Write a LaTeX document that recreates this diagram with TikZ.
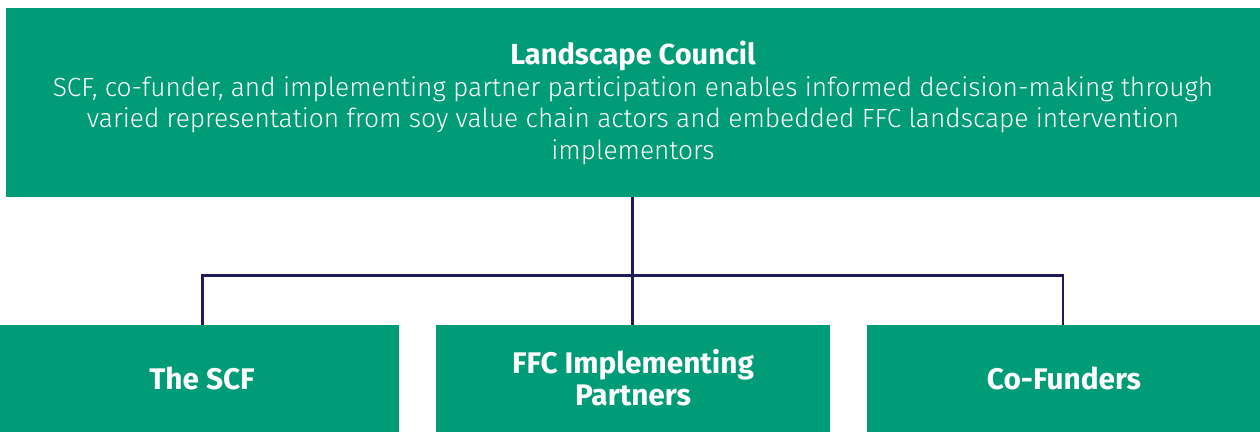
\documentclass[tikz,border=0pt]{standalone}
\usepackage{fontspec}
\setmainfont{Fira Sans}[UprightFont=* Light, BoldFont=* Bold]
\definecolor{boxgreen}{RGB}{0,155,119}
\definecolor{linenavy}{RGB}{31,27,94}
\tikzset{
  greenbox/.style={fill=boxgreen, draw=none, text=white, align=center, inner sep=0pt},
  textlbl/.style={text=white, align=center, inner sep=0pt},
  conn/.style={draw=linenavy, line width=2.6pt}
}
\begin{document}
\begin{tikzpicture}[x=1pt,y=-1pt]
\useasboundingbox (0,0) rectangle (1260,432);
\node[greenbox, minimum width=1254pt, minimum height=189pt] (council) at (633,102.5) {};
\node[textlbl, anchor=base, font=\fontsize{29}{31}\selectfont\bfseries] (title) at (633,64) {Landscape Council};
\node[textlbl, anchor=base, font=\fontsize{26.3}{31.5}\selectfont] (body) at (633,159) {SCF, co-funder, and implementing partner participation enables informed decision-making through\\
  varied representation from soy value chain actors and embedded FFC landscape intervention\\
  implementors};
\node[greenbox, minimum width=399pt, minimum height=107pt] (scfbox) at (199.5,378.5) {};
\node[greenbox, minimum width=394pt, minimum height=107pt] (ffcbox) at (633,378.5) {};
\node[greenbox, minimum width=393pt, minimum height=107pt] (cofbox) at (1063.5,378.5) {};
\node[textlbl, anchor=base, font=\fontsize{29.8}{32}\selectfont\bfseries] (scf) at (202,389) {The SCF};
\node[textlbl, anchor=base, font=\fontsize{29.8}{32}\selectfont\bfseries] (ffc) at (633,405) {FFC Implementing\\Partners};
\node[textlbl, anchor=base, font=\fontsize{29.8}{32}\selectfont\bfseries] (cof) at (1064,389) {Co-Funders};
\coordinate (scftop) at (202.5,325);
\coordinate (ffctop) at (632.7,325);
\coordinate (coftop) at (1063,325);
\coordinate (hl) at (202.5,275.3);
\coordinate (hr) at (1063,275.3);
\draw[conn] (council.south -| ffctop) -- (ffctop);
\draw[conn, line join=miter] (scftop) -- (hl) -- (hr) -- (coftop);
\end{tikzpicture}
\end{document}
